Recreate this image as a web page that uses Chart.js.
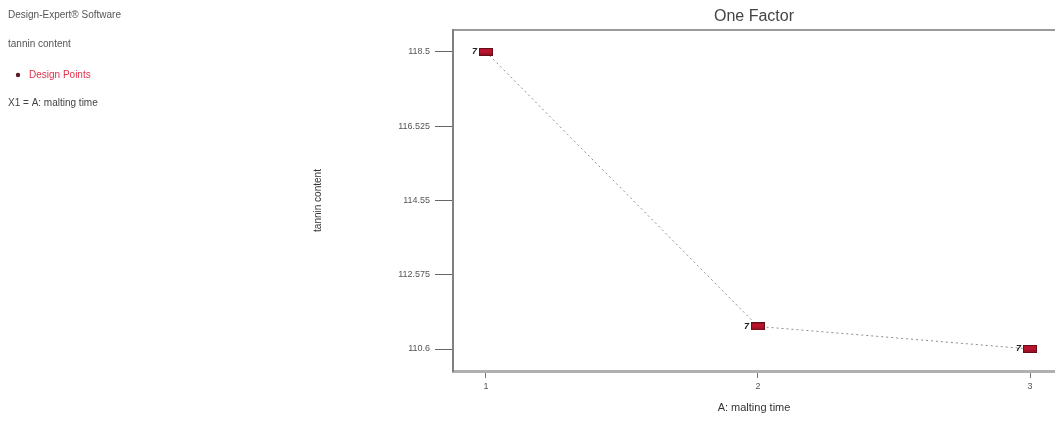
<!DOCTYPE html>
<html>
<head>
<meta charset="utf-8">
<script src="https://cdn.jsdelivr.net/npm/chart.js@4/dist/chart.umd.min.js"></script>
<style>
  html, body { margin: 0; padding: 0; background: #fff; overflow: hidden; }
  #wrap { width: 1055px; height: 444px; position: relative; overflow: hidden; }
  canvas { display: block; }
</style>
</head>
<body>
<div id="wrap"><canvas id="c" width="1055" height="444"></canvas></div>
<script>
// ---- data ----
const maltingTime = [1, 2, 3];
const tanninContent = [118.5, 111.2, 110.6];
const replicates = [7, 7, 7];
const yTickValues = [110.6, 112.575, 114.55, 116.525, 118.5];
const yTickLabels = ['110.6', '112.575', '114.55', '116.525', '118.5'];
const xTickValues = [1, 2, 3];
const sideNotes = ['Design-Expert® Software', 'tannin content', 'Design Points', 'X1 = A: malting time'];

// marker image (red rectangle)
const marker = document.createElement('canvas');
marker.width = 14; marker.height = 8;
(function () {
  const m = marker.getContext('2d');
  m.fillStyle = '#6a0c18';
  m.fillRect(0, 0, 14, 8);
  m.fillStyle = '#b8142e';
  m.fillRect(1, 1, 12, 6);
  m.fillStyle = '#9a1024';
  m.fillRect(1, 5, 12, 2);
})();

const annotations = {
  id: 'annotations',
  afterDatasetsDraw(chart) {
    const ctx = chart.ctx;
    const meta = chart.getDatasetMeta(0);
    ctx.save();
    ctx.fillStyle = '#222';
    ctx.font = 'italic bold 9px "Liberation Sans", Arial, sans-serif';
    ctx.textAlign = 'right';
    ctx.textBaseline = 'middle';
    meta.data.forEach((pt, i) => {
      ctx.fillText(String(replicates[i]), pt.x - 9, pt.y);
    });
    ctx.restore();
  },
  afterDraw(chart) {
    const ctx = chart.ctx;
    ctx.save();
    ctx.textBaseline = 'middle';
    ctx.textAlign = 'left';
    ctx.font = '10px "Liberation Sans", Arial, sans-serif';
    ctx.fillStyle = '#555';
    ctx.fillText(sideNotes[0], 8, 15);
    ctx.fillText(sideNotes[1], 8, 44);
    ctx.fillStyle = '#5a1a2a';
    ctx.beginPath(); ctx.arc(18, 75, 2.2, 0, Math.PI * 2); ctx.fill();
    ctx.fillStyle = '#e0304a';
    ctx.fillText(sideNotes[2], 29, 75);
    ctx.fillStyle = '#444';
    ctx.fillText(sideNotes[3], 8, 103);
    ctx.restore();
  }
};

const chart = new Chart(document.getElementById('c'), {
  type: 'line',
  data: {
    datasets: [{
      data: maltingTime.map((x, i) => ({ x: x, y: tanninContent[i] })),
      borderColor: '#8c8c8c',
      borderWidth: 1,
      borderDash: [2, 3],
      pointStyle: marker,
      pointRadius: 7,
      fill: false,
      tension: 0
    }]
  },
  options: {
    responsive: false,
    animation: false,
    devicePixelRatio: 1,
    layout: { autoPadding: false, padding: { left: 312, right: 0, top: 0, bottom: 0 } },
    plugins: {
      legend: { display: false },
      tooltip: { enabled: false },
      title: {
        display: true,
        text: 'One Factor',
        fullSize: false,
        color: '#444',
        font: { family: '"Liberation Sans", Arial, sans-serif', size: 16, weight: 'normal', lineHeight: 1.2 },
        padding: { top: 7, bottom: 3.8 }
      }
    },
    scales: {
      x: {
        type: 'linear',
        position: 'bottom',
        min: 0.8787,
        max: 3.0919,
        afterBuildTicks(s) { s.ticks = xTickValues.map(v => ({ value: v })); },
        afterFit(s) { s.height = 73; s.paddingRight = 0; s.paddingLeft = 0; },
        ticks: {
          color: '#555',
          padding: 3,
          font: { family: '"Liberation Sans", Arial, sans-serif', size: 9 },
          callback: v => String(v)
        },
        grid: { display: true, drawOnChartArea: false, tickLength: 7, color: '#777', lineWidth: 1 },
        border: { display: true, color: '#b0b0b0', width: 3 },
        title: {
          display: true,
          text: 'A: malting time',
          color: '#333',
          font: { family: '"Liberation Sans", Arial, sans-serif', size: 11 },
          padding: { top: 0, bottom: 29.4 }
        }
      },
      xTop: {
        type: 'linear',
        position: 'top',
        min: 0.8787,
        max: 3.0919,
        afterFit(s) { s.height = 0; s.paddingRight = 0; s.paddingLeft = 0; },
        ticks: { display: false },
        grid: { display: false },
        border: { display: true, color: '#9a9a9a', width: 2 }
      },
      y: {
        type: 'linear',
        min: 110.015,
        max: 119.085,
        afterBuildTicks(s) { s.ticks = yTickValues.map(v => ({ value: v })); },
        afterFit(s) { s.width = 141; },
        ticks: {
          color: '#555',
          padding: 5,
          font: { family: '"Liberation Sans", Arial, sans-serif', size: 9 },
          callback: (v) => {
            const i = yTickValues.indexOf(v);
            return i >= 0 ? yTickLabels[i] : '';
          }
        },
        grid: { display: true, drawOnChartArea: false, tickLength: 18, color: '#666', lineWidth: 1 },
        border: { display: true, color: '#808080', width: 2 },
        title: {
          display: true,
          text: 'tannin content',
          color: '#333',
          font: { family: '"Liberation Sans", Arial, sans-serif', size: 10 },
          padding: { top: 0, bottom: 0 }
        }
      }
    }
  },
  plugins: [annotations]
});
</script>
</body>
</html>
